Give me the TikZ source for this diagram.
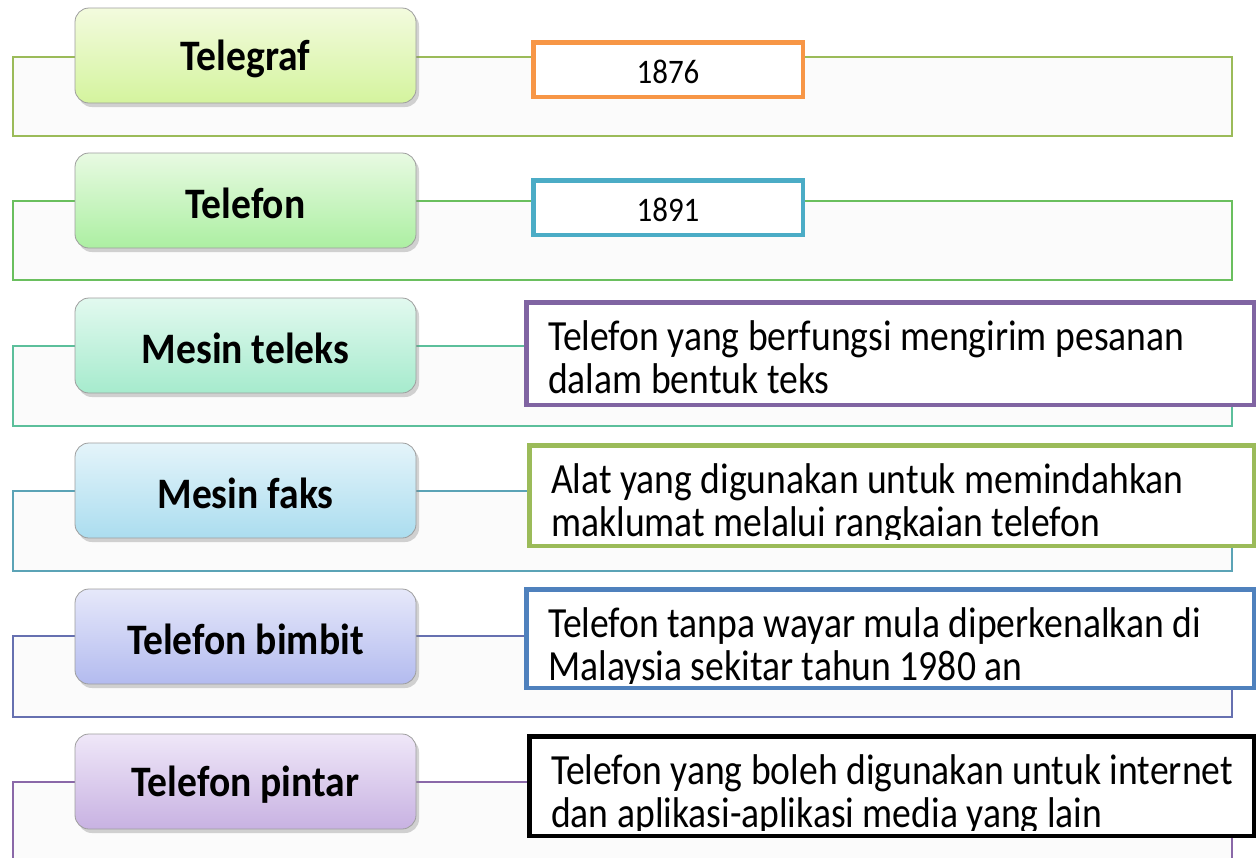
\documentclass[tikz,border=0pt]{standalone}
\usepackage{fontspec}
\usepackage{graphicx}
\setmainfont{Carlito}
\usetikzlibrary{shadows}
\definecolor{frA}{HTML}{9BBB59}
\definecolor{frB}{HTML}{6ABF5E}
\definecolor{frC}{HTML}{5CBF9B}
\definecolor{frD}{HTML}{5BA3B6}
\definecolor{frE}{HTML}{6670B0}
\definecolor{frF}{HTML}{8A68A8}
\definecolor{tA}{HTML}{F3FBDE}\definecolor{bA}{HTML}{D4F49E}
\definecolor{tB}{HTML}{E8FAE2}\definecolor{bB}{HTML}{ACEFA2}
\definecolor{tC}{HTML}{E2F9EF}\definecolor{bC}{HTML}{A6EBCD}
\definecolor{tD}{HTML}{E4F4FA}\definecolor{bD}{HTML}{ABDDEF}
\definecolor{tE}{HTML}{E6E8FA}\definecolor{bE}{HTML}{B3BBEF}
\definecolor{tF}{HTML}{EFE7F8}\definecolor{bF}{HTML}{C8B2E2}
\definecolor{bxOrange}{HTML}{F79646}
\definecolor{bxCyan}{HTML}{4BACC6}
\definecolor{bxPurple}{HTML}{8064A2}
\definecolor{bxGreen}{HTML}{9BBB59}
\definecolor{bxBlue}{HTML}{4F81BD}
\newcommand\sqT[1]{\raisebox{-3pt}[\height][\depth]{\scalebox{0.91}[1]{#1}}}
\newcommand\sqY[1]{\scalebox{0.9}[1]{#1}}
\newcommand\sqD[1]{\scalebox{0.875}[1]{#1}}
\tikzset{
  frameline/.style={line width=2.5pt, fill=black!1.5},
  topic/.style={rounded corners=14pt, draw=black!38, line width=0.8pt,
    minimum width=341pt, minimum height=95pt, inner sep=0pt,
    font=\fontsize{43.5}{50}\selectfont\bfseries,
    drop shadow={shadow xshift=3pt, shadow yshift=-4pt, opacity=0.35}},
  yearbox/.style={draw, line width=4.5pt, fill=white, minimum width=269.5pt,
    minimum height=54.5pt, inner sep=0pt},
  descbox/.style={draw, line width=4.5pt, fill=white, inner sep=0pt},
  ytext/.style={font=\fontsize{34.4}{40}\selectfont, anchor=base, inner sep=0pt},
  dtext/.style={font=\fontsize{43}{43}\selectfont, anchor=base west, align=left, inner sep=0pt},
}
\begin{document}
\begin{tikzpicture}[x=1pt,y=-1pt]
\useasboundingbox (0,0) rectangle (1258,857);
\fill[white] (0,0) rectangle (1258,857);
% frames
\draw[frameline, draw=frA] (13,57) rectangle (1232,136);
\draw[frameline, draw=frB] (13,201) rectangle (1232,280);
\draw[frameline, draw=frC] (13,346) rectangle (1232,426);
\draw[frameline, draw=frD] (13,491) rectangle (1232,571);
\draw[frameline, draw=frE] (13,636) rectangle (1232,717);
\draw[frameline, draw=frF] (13,782) rectangle (1232,870);
% topic nodes
\node[topic, top color=tA, bottom color=bA] (n1) at (245.5,55.5) {\sqT{Telegraf}};
\node[topic, top color=tB, bottom color=bB] (n2) at (245.5,200.5) {\sqT{Telefon}};
\node[topic, top color=tC, bottom color=bC] (n3) at (245.5,345.5) {\sqT{Mesin teleks}};
\node[topic, top color=tD, bottom color=bD] (n4) at (245.5,490.5) {\sqT{Mesin faks}};
\node[topic, top color=tE, bottom color=bE] (n5) at (245.5,636.5) {\sqT{Telefon bimbit}};
\node[topic, top color=tF, bottom color=bF] (n6) at (245.5,781.5) {\sqT{Telefon pintar}};
% year boxes
\node[yearbox, draw=bxOrange] (b1) at (668,69.5) {};
\node[ytext] (t1) at (668,83) {\sqY{1876}};
\node[yearbox, draw=bxCyan] (b2) at (668,207.5) {};
\node[ytext] (t2) at (668,221) {\sqY{1891}};
% description boxes
\node[descbox, draw=bxPurple, minimum width=727.5pt, minimum height=102.5pt] (b3) at (890,353.5) {};
\begin{scope}
\clip (526,302) rectangle (1254,396);
\node[dtext] (t3) at (548,393) {\sqD{Telefon yang berfungsi mengirim pesanan}\\\sqD{dalam bentuk teks}};
\end{scope}
\node[descbox, draw=bxGreen, minimum width=724.5pt, minimum height=100.5pt] (b4) at (891.5,495.5) {};
\begin{scope}
\clip (529,445) rectangle (1254,539);
\node[dtext] (t4) at (551,536) {\sqD{Alat yang digunakan untuk memindahkan}\\\sqD{maklumat melalui rangkaian telefon}};
\end{scope}
\node[descbox, draw=bxBlue, minimum width=727.5pt, minimum height=98.5pt] (b5) at (890,638.5) {};
\begin{scope}
\clip (526,589) rectangle (1254,683);
\node[dtext] (t5) at (548,680) {\sqD{Telefon tanpa wayar mula diperkenalkan di}\\\sqD{Malaysia sekitar tahun 1980 an}};
\end{scope}
\node[descbox, draw=black, minimum width=724.5pt, minimum height=99.5pt] (b6) at (891.5,786) {};
\begin{scope}
\clip (529,736) rectangle (1254,830);
\node[dtext] (t6) at (551,827) {\sqD{Telefon yang boleh digunakan untuk internet}\\\sqD{dan aplikasi-aplikasi media yang lain}};
\end{scope}
\end{tikzpicture}
\end{document}
